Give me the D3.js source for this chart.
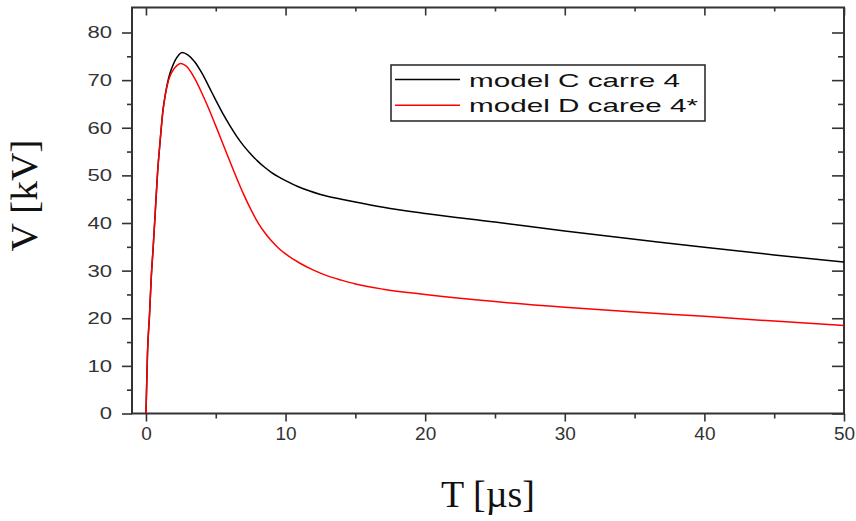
<!DOCTYPE html>
<html>
<head>
<meta charset="utf-8">
<script src="https://cdn.jsdelivr.net/npm/d3@7.9.0/dist/d3.min.js"></script>
<style>
  body { margin: 0; background: #fff; }
  svg { display: block; }
</style>
</head>
<body>
<div id="chart"></div>
<script>
// model C carre 4 (black)
const timeC = [0, 0.11, 0.26, 0.38, 0.52, 0.66, 0.83, 1.02, 1.22, 1.4, 1.62, 1.86, 2.1, 2.35, 2.58, 3.0, 3.5, 4.0, 4.5, 5.0, 5.5, 6.0, 6.5, 7.0, 7.5, 8.0, 8.5, 9.0, 9.5, 10, 11, 12.5, 14, 15, 17, 20, 25, 30, 35, 40, 45, 50];
const voltC = [0, 12.7, 21, 28.6, 35, 42, 50.5, 57.4, 63.7, 67.2, 70.4, 72.6, 74.2, 75.3, 75.8, 75.3, 73.8, 71.5, 68.7, 65.8, 63.0, 60.5, 58.2, 56.2, 54.5, 53.0, 51.7, 50.6, 49.7, 48.9, 47.5, 46.0, 45.0, 44.4, 43.3, 42.0, 40.2, 38.3, 36.6, 34.9, 33.3, 31.8];

// model D caree 4* (red)
const timeD = [0, 0.11, 0.26, 0.38, 0.52, 0.66, 0.83, 1.02, 1.22, 1.36, 1.62, 1.86, 2.1, 2.33, 2.46, 3.0, 3.5, 4.0, 4.5, 5.0, 5.5, 6.0, 6.5, 7.0, 7.5, 8.0, 8.5, 9.0, 9.5, 10, 11, 12, 13, 14, 15, 17, 20, 25, 30, 35, 40, 45, 50];
const voltD = [0, 12.7, 21, 28.6, 35, 42, 50.5, 57.4, 63.7, 66.5, 70.0, 71.7, 72.7, 73.3, 73.5, 72.6, 70.3, 67.3, 64.0, 60.4, 56.7, 53.0, 49.4, 46.0, 42.9, 40.2, 38.0, 36.2, 34.7, 33.5, 31.6, 30.1, 28.9, 28.0, 27.2, 26.1, 25.0, 23.5, 22.3, 21.3, 20.4, 19.4, 18.5];

const seriesNames = ["model C carre 4", "model D caree 4*"];
const seriesColors = ["#000000", "#ff0000"];

const xMajor = [0, 10, 20, 30, 40, 50];
const xMinor = [5, 15, 25, 35, 45];
const yMajor = [0, 10, 20, 30, 40, 50, 60, 70, 80];
const yMinor = [5, 15, 25, 35, 45, 55, 65, 75];

const width = 856;
const height = 521;
const plot = { left: 132, right: 844, top: 7.5, bottom: 413.5 };

const svg = d3.select('#chart')
    .append('svg')
    .attr('width', width)
    .attr('height', height);

const xScale = d3.scaleLinear().domain([-1, 50]).range([plot.left, plot.right]);
const yScale = d3.scaleLinear().domain([0, 85.25]).range([plot.bottom, plot.top]);

const axisColor = "#333";

function styleAxis(g) {
    g.select(".domain").remove();
    g.selectAll(".tick line").attr("stroke", axisColor).attr("stroke-width", 1.6);
}

/* bottom axis: labels + outward ticks */
svg.append("g")
    .attr("transform", `translate(0,${plot.bottom})`)
    .call(d3.axisBottom(xScale).tickValues(xMajor).tickSize(8).tickPadding(5).tickFormat(d3.format("d")))
    .call(styleAxis)
    .call(g => g.selectAll("text")
        .attr("fill", "#333")
        .attr("font-family", "Liberation Sans, Arial, sans-serif")
        .attr("font-size", 19));
svg.append("g")
    .attr("transform", `translate(0,${plot.bottom})`)
    .call(d3.axisBottom(xScale).tickValues(xMinor).tickSize(5).tickFormat(""))
    .call(styleAxis);

/* left axis */
svg.append("g")
    .attr("transform", `translate(${plot.left},0)`)
    .call(d3.axisLeft(yScale).tickValues(yMajor).tickSize(10).tickPadding(10).tickFormat(d3.format("d")))
    .call(styleAxis)
    .call(g => g.selectAll("text")
        .attr("fill", "#333")
        .attr("font-family", "Liberation Sans, Arial, sans-serif")
        .attr("font-size", 17)
        .attr("textLength", d => String(d).length * 12.3)
        .attr("lengthAdjust", "spacingAndGlyphs"));
svg.append("g")
    .attr("transform", `translate(${plot.left},0)`)
    .call(d3.axisLeft(yScale).tickValues(yMinor).tickSize(5).tickFormat(""))
    .call(styleAxis);

/* top and right axes: inward ticks, no labels */
svg.append("g")
    .attr("transform", `translate(0,${plot.top})`)
    .call(d3.axisTop(xScale).tickValues(xMajor).tickSize(-8).tickFormat(""))
    .call(styleAxis);
svg.append("g")
    .attr("transform", `translate(0,${plot.top})`)
    .call(d3.axisTop(xScale).tickValues(xMinor).tickSize(-4).tickFormat(""))
    .call(styleAxis);
svg.append("g")
    .attr("transform", `translate(${plot.right},0)`)
    .call(d3.axisRight(yScale).tickValues(yMajor).tickSize(-12).tickFormat(""))
    .call(styleAxis);
svg.append("g")
    .attr("transform", `translate(${plot.right},0)`)
    .call(d3.axisRight(yScale).tickValues(yMinor).tickSize(-6).tickFormat(""))
    .call(styleAxis);

/* frame */
svg.append("rect")
    .attr("x", plot.left)
    .attr("y", plot.top)
    .attr("width", plot.right - plot.left)
    .attr("height", plot.bottom - plot.top)
    .attr("fill", "none")
    .attr("stroke", axisColor)
    .attr("stroke-width", 2);

/* curves */
const series = [
    timeC.map((t, i) => ({ t: t, v: voltC[i] })),
    timeD.map((t, i) => ({ t: t, v: voltD[i] }))
];
const line = d3.line()
    .x(d => xScale(d.t))
    .y(d => yScale(d.v))
    .curve(d3.curveMonotoneX);

svg.selectAll("path.series")
    .data(series)
    .join("path")
    .attr("class", "series")
    .attr("fill", "none")
    .attr("stroke", (d, i) => seriesColors[i])
    .attr("stroke-width", 1.5)
    .attr("d", line);

/* legend */
const legend = svg.append("g");
legend.append("rect")
    .attr("x", 391)
    .attr("y", 65)
    .attr("width", 314)
    .attr("height", 56)
    .attr("fill", "#fff")
    .attr("stroke", "#222")
    .attr("stroke-width", 1.5);
const legendWidths = [211, 229];
seriesNames.forEach((name, i) => {
    const yy = 79.5 + i * 25.7;
    legend.append("line")
        .attr("x1", 395).attr("x2", 460)
        .attr("y1", yy).attr("y2", yy)
        .attr("stroke", seriesColors[i])
        .attr("stroke-width", 1.5);
    legend.append("text")
        .attr("x", 469)
        .attr("y", yy + 7.2)
        .attr("font-family", "Liberation Sans, Arial, sans-serif")
        .attr("font-size", 19)
        .attr("fill", "#111")
        .attr("textLength", legendWidths[i])
        .attr("lengthAdjust", "spacingAndGlyphs")
        .text(name);
});

/* axis titles */
svg.append("text")
    .attr("text-anchor", "middle")
    .attr("x", (plot.left + plot.right) / 2)
    .attr("y", 507)
    .attr("font-family", "Liberation Serif, Times New Roman, serif")
    .attr("font-size", 38)
    .attr("fill", "#111")
    .text("T [µs]");
svg.append("text")
    .attr("text-anchor", "middle")
    .attr("transform", "translate(37,195.5) rotate(-90)")
    .attr("font-family", "Liberation Serif, Times New Roman, serif")
    .attr("font-size", 37)
    .attr("textLength", 112)
    .attr("lengthAdjust", "spacingAndGlyphs")
    .attr("fill", "#111")
    .text("V [kV]");
</script>
</body>
</html>
